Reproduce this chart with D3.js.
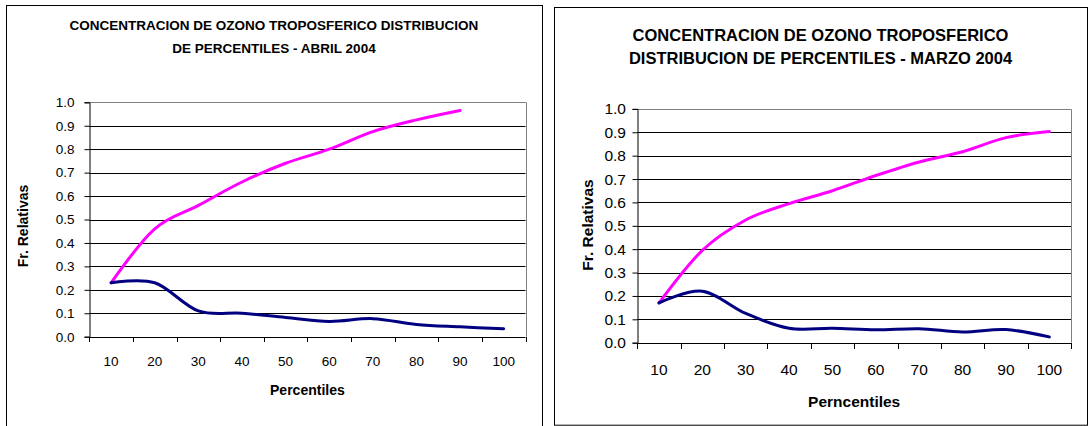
<!DOCTYPE html>
<html>
<head>
<meta charset="utf-8">
<script src="https://cdn.jsdelivr.net/npm/d3@7"></script>
<style>
  html, body { margin: 0; padding: 0; background: #fff; }
  svg { display: block; }
  text { font-family: "Liberation Sans", Arial, sans-serif; fill: #000; }
</style>
</head>
<body>
<svg id="chart" width="1090" height="426"></svg>
<script>
// ---------- data ----------
const categories = [10, 20, 30, 40, 50, 60, 70, 80, 90, 100];
const tickLabels = ["10", "20", "30", "40", "50", "60", "70", "80", "90", "100"];
const yTickValues = [0, 0.1, 0.2, 0.3, 0.4, 0.5, 0.6, 0.7, 0.8, 0.9, 1.0];

// ABRIL 2004
const abrilAcumulada = [0.23, 0.46, 0.56, 0.66, 0.74, 0.80, 0.875, 0.925, 0.965, null];
const abrilRelativa  = [0.23, 0.23, 0.11, 0.10, 0.082, 0.065, 0.077, 0.052, 0.042, 0.034];

// MARZO 2004
const marzoAcumulada = [0.17, 0.395, 0.525, 0.595, 0.65, 0.715, 0.773, 0.817, 0.877, 0.903];
const marzoRelativa  = [0.17, 0.22, 0.125, 0.062, 0.062, 0.055, 0.06, 0.046, 0.056, 0.025];

const titleAbril = ["CONCENTRACION DE OZONO TROPOSFERICO DISTRIBUCION", "DE PERCENTILES - ABRIL 2004"];
const titleMarzo = ["CONCENTRACION DE OZONO TROPOSFERICO", "DISTRIBUCION DE PERCENTILES - MARZO 2004"];
const yTitle = "Fr. Relativas";
const xTitleAbril = "Percentiles";
const xTitleMarzo = "Perncentiles";

const pinkColor = "#ff00ff";
const blueColor = "#000080";

const svg = d3.select("#chart");

function drawPanel(cfg) {
  const g = svg.append("g");
  // panel border
  g.append("rect")
    .attr("x", cfg.box[0] + 0.5).attr("y", cfg.box[1] + 0.5)
    .attr("width", cfg.box[2]).attr("height", cfg.box[3])
    .attr("fill", "#fff").attr("stroke", "#000").attr("stroke-width", 1);

  // title
  cfg.title.forEach((t, i) => {
    g.append("text")
      .attr("x", cfg.titleX).attr("y", cfg.titleY + i * cfg.titleGap)
      .attr("text-anchor", "middle")
      .attr("font-size", cfg.titleSize).attr("font-weight", "bold")
      .text(t);
  });

  const x = d3.scaleBand().domain(categories).range([cfg.plot.x0, cfg.plot.x1]).padding(0);
  const y = d3.scaleLinear().domain([0, 1]).range([cfg.plot.y0, cfg.plot.y1]);

  // gridlines
  g.append("g").selectAll("line")
    .data(yTickValues.filter(v => v > 0 && v < 1))
    .join("line")
    .attr("x1", cfg.plot.x0).attr("x2", cfg.plot.x1)
    .attr("y1", d => Math.round(y(d)) + 0.5).attr("y2", d => Math.round(y(d)) + 0.5)
    .attr("stroke", "#000").attr("stroke-width", 1);

  // plot area border top/right (gray)
  g.append("path")
    .attr("d", `M${cfg.plot.x0},${Math.round(y(1)) + 0.5}H${Math.round(cfg.plot.x1) + 0.5}V${cfg.plot.y0}`)
    .attr("fill", "none").attr("stroke", "#808080").attr("stroke-width", 1);

  // y axis
  const yAxis = d3.axisLeft(y).tickValues(yTickValues)
    .tickFormat(d3.format(".1f")).tickSize(5).tickPadding(cfg.yPad);
  const ya = g.append("g")
    .attr("transform", `translate(${Math.round(cfg.plot.x0) + 0.5},0)`)
    .call(yAxis);
  ya.select(".domain").attr("stroke", "#000");
  ya.selectAll(".tick line").attr("stroke", "#000");
  ya.selectAll(".tick text")
    .attr("font-size", cfg.yLabelSize)
    .attr("font-family", "Liberation Sans, Arial, sans-serif")
    .attr("fill", "#000");

  // x axis: labels centred in each category, tick marks at boundaries
  const xAxis = d3.axisBottom(x).tickValues(categories)
    .tickFormat((d, i) => tickLabels[i]).tickSize(0).tickPadding(cfg.xPad);
  const xa = g.append("g")
    .attr("transform", `translate(0,${Math.round(y(0)) + 0.5})`)
    .call(xAxis);
  xa.select(".domain").remove();
  xa.selectAll(".tick text")
    .attr("font-size", cfg.xLabelSize)
    .attr("font-family", "Liberation Sans, Arial, sans-serif")
    .attr("fill", "#000");
  g.append("line")
    .attr("x1", cfg.plot.x0).attr("x2", cfg.plot.x1)
    .attr("y1", Math.round(y(0)) + 0.5).attr("y2", Math.round(y(0)) + 0.5)
    .attr("stroke", "#000");
  const bounds = categories.map(c => x(c)).concat([x(categories[categories.length - 1]) + x.bandwidth()]);
  g.append("g").selectAll("line").data(bounds).join("line")
    .attr("x1", d => Math.round(d) + 0.5).attr("x2", d => Math.round(d) + 0.5)
    .attr("y1", Math.round(y(0))).attr("y2", Math.round(y(0)) + cfg.xTick)
    .attr("stroke", "#000");

  // axis titles
  g.append("text")
    .attr("x", (cfg.plot.x0 + cfg.plot.x1) / 2).attr("y", cfg.xTitleY)
    .attr("text-anchor", "middle").attr("font-weight", "bold")
    .attr("font-size", cfg.xTitleSize).text(cfg.xTitle);
  g.append("text")
    .attr("transform", `translate(${cfg.yTitleX},${cfg.yTitleY}) rotate(-90)`)
    .attr("text-anchor", "middle").attr("font-weight", "bold")
    .attr("font-size", cfg.yTitleSize).text(yTitle);

  // lines
  const line = d3.line()
    .defined(d => d.v != null)
    .x(d => x(d.c) + x.bandwidth() / 2)
    .y(d => y(d.v))
    .curve(d3.curveCardinal.tension(0));
  [[cfg.pink, pinkColor], [cfg.blue, blueColor]].forEach(([vals, col]) => {
    const pts = categories.map((c, i) => ({ c: c, v: vals[i] })).filter(d => d.v != null);
    g.append("path").datum(pts)
      .attr("d", line)
      .attr("fill", "none").attr("stroke", col)
      .attr("stroke-width", 3).attr("stroke-linejoin", "round").attr("stroke-linecap", "round");
  });
}

drawPanel({
  box: [6, 5, 536, 430],
  title: titleAbril, titleX: 274, titleY: 29.8, titleGap: 23.3, titleSize: 13.5,
  plot: { x0: 89.3, x1: 525.5, y0: 336.7, y1: 102.3 },
  yPad: 10, yLabelSize: 13.5, xPad: 18.5, xLabelSize: 13.5, xTick: 5,
  xTitle: xTitleAbril, xTitleY: 394.7, xTitleSize: 14,
  yTitleX: 27.6, yTitleY: 226, yTitleSize: 14,
  pink: abrilAcumulada, blue: abrilRelativa
});

drawPanel({
  box: [554, 7, 533, 417.7],
  title: titleMarzo, titleX: 820.5, titleY: 41, titleGap: 23.3, titleSize: 16.5,
  plot: { x0: 637.3, x1: 1071, y0: 342.7, y1: 108.9 },
  yPad: 6.5, yLabelSize: 15.5, xPad: 20, xLabelSize: 15.5, xTick: 6,
  xTitle: xTitleMarzo, xTitleY: 406.8, xTitleSize: 15.5,
  yTitleX: 592.6, yTitleY: 225, yTitleSize: 15.5,
  pink: marzoAcumulada, blue: marzoRelativa
});
</script>
</body>
</html>
